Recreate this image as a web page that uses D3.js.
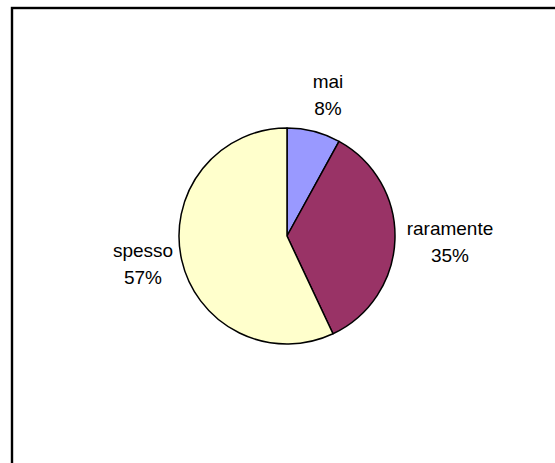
<!DOCTYPE html>
<html>
<head>
<meta charset="utf-8">
<script src="https://cdn.jsdelivr.net/npm/d3@7"></script>
<style>
html,body{margin:0;padding:0;background:#fff;}
svg{display:block;}
</style>
</head>
<body>
<script>
const categories = ["mai", "raramente", "spesso"];
const values = [8, 35, 57];
const percentLabels = ["8%", "35%", "57%"];
const colors = ["#9999FF", "#993366", "#FFFFCC"];

const W = 555, H = 463;
const svg = d3.select("body").append("svg").attr("width", W).attr("height", H);

// frame (cropped at right/bottom as in the reference)
svg.append("rect")
  .attr("x", 12).attr("y", 8)
  .attr("width", 700).attr("height", 700)
  .attr("fill", "#fff")
  .attr("stroke", "#000")
  .attr("stroke-width", 2.4);

const cx = 287, cy = 236, r = 108;
const g = svg.append("g").attr("transform", `translate(${cx},${cy})`);

const pie = d3.pie().sort(null).value(d => d.v);
const data = pie(categories.map((c, i) => ({c, v: values[i], p: percentLabels[i], col: colors[i]})));
const arc = d3.arc().innerRadius(0).outerRadius(r);

g.selectAll("path").data(data).enter().append("path")
  .attr("d", arc)
  .attr("fill", d => d.data.col)
  .attr("stroke", "#000")
  .attr("stroke-width", 1.5)
  .attr("stroke-linejoin", "round");

// label positions (outside the pie, like the reference)
const labelPos = {
  "mai": [328, 88],
  "raramente": [450, 235],
  "spesso": [143, 257]
};
const lineGap = 27;
const fs = 19;

data.forEach(d => {
  const [x, y] = labelPos[d.data.c];
  const t = svg.append("text")
    .attr("text-anchor", "middle")
    .attr("font-family", "Arial, 'Liberation Sans', sans-serif")
    .attr("font-size", fs)
    .attr("fill", "#000");
  t.append("tspan").attr("x", x).attr("y", y).text(d.data.c);
  t.append("tspan").attr("x", x).attr("y", y + lineGap).text(d.data.p);
});
</script>
</body>
</html>
